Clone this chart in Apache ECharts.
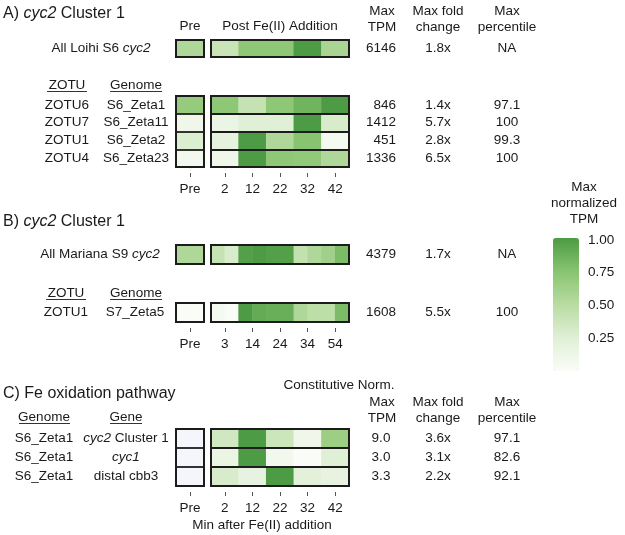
<!DOCTYPE html>
<html><head><meta charset="utf-8">
<script src="https://cdn.jsdelivr.net/npm/echarts@6/dist/echarts.min.js"></script>
<style>html,body{margin:0;padding:0;background:#fff}#c{width:625px;height:535px}</style>
</head><body><div id="c"></div>
<script>
// ---------- DATA ----------
// Panel A
const aTimes = ['2', '12', '22', '32', '42'];
const aAllLabel = ['All Loihi S6 cyc2'];
const aAllPre = [0.55];
const aAllPost = [0.40, 0.72, 0.72, 1.00, 0.58];
const aAllMaxTPM = ['6146'];
const aAllFold = ['1.8x'];
const aAllPct = ['NA'];
const aZotus = ['ZOTU6', 'ZOTU7', 'ZOTU1', 'ZOTU4'];
const aGenomes = ['S6_Zeta1', 'S6_Zeta11', 'S6_Zeta2', 'S6_Zeta23'];
const aPre = [0.68, 0.10, 0.28, 0.08];
const aPost1 = [0.72, 0.42, 0.72, 0.85, 1.00];
const aPost2 = [0.14, 0.25, 0.25, 1.00, 0.30];
const aPost3 = [0.20, 1.00, 0.55, 0.75, 0.05];
const aPost4 = [0.10, 1.00, 0.72, 0.70, 0.55];
const aMaxTPM = ['846', '1412', '451', '1336'];
const aFold = ['1.4x', '5.7x', '2.8x', '6.5x'];
const aPct = ['97.1', '100', '99.3', '100'];
// Panel B (10 samples, 5 labelled ticks)
const bSamples = ['s1', 's2', 's3', 's4', 's5', 's6', 's7', 's8', 's9', 's10'];
const bTickAt = [1, 3, 5, 7, 9];
const bTickLabels = ['3', '14', '24', '34', '54'];
const bAllLabel = ['All Mariana S9 cyc2'];
const bAllPre = [0.55];
const bAllPost = [0.42, 0.30, 0.97, 1.00, 0.97, 0.97, 0.44, 0.55, 0.62, 0.80];
const bAllMaxTPM = ['4379'];
const bAllFold = ['1.7x'];
const bAllPct = ['NA'];
const bZotus = ['ZOTU1'];
const bGenomes = ['S7_Zeta5'];
const bPre = [0.0];
const bPost1 = [0.05, 0.00, 1.00, 0.90, 0.88, 0.88, 0.55, 0.48, 0.48, 0.80];
const bMaxTPM = ['1608'];
const bFold = ['5.5x'];
const bPct = ['100'];
// Panel C
const cTimes = ['2', '12', '22', '32', '42'];
const cGenomes = ['S6_Zeta1', 'S6_Zeta1', 'S6_Zeta1'];
const cGenes = ['cyc2 Cluster 1', 'cyc1', 'distal cbb3'];
const cPre = [null, null, null]; // NA
const cPost1 = [0.35, 1.00, 0.38, 0.10, 0.65];
const cPost2 = [0.15, 1.00, 0.08, 0.00, 0.25];
const cPost3 = [0.30, 0.18, 1.00, 0.22, 0.18];
const cMaxTPM = ['9.0', '3.0', '3.3'];
const cFold = ['3.6x', '3.1x', '2.2x'];
const cPct = ['97.1', '82.6', '92.1'];
// Colour bar
const legendTicks = [0.25, 0.5, 0.75, 1.0];

// ---------- STYLE / LAYOUT ----------
const FONT = "'Liberation Sans', Arial, Helvetica, sans-serif";
const FS = 13.5;
const TXT = '#1a1a1a';
const BORDER = '#1c1c1c';
const GREENS = ['#fafcf8', '#e0f0d6', '#b9dca3', '#88c46f', '#4d9b45'];
const NA_COLOR = '#f4f6fb';
const RICH = { i: { fontStyle: 'italic', fontSize: FS, fontFamily: FONT, color: TXT } };
const fmt = s => String(s).replace(/(cyc\d)/g, '{i|$1}');
const PRE_L = 176, PRE_W = 28, POST_L = 211, POST_W = 138;

const grids = [], xAxes = [], yAxes = [], series = [], heatIdx = [];

function makeGrid(left, top, width, height, bg) {
  grids.push({ left, top, width, height, show: true, z: 10, borderColor: BORDER, borderWidth: 2,
    backgroundColor: bg || 'rgba(0,0,0,0)' });
  return grids.length - 1;
}
function labelStyle(extra) {
  return Object.assign({ fontSize: FS, fontFamily: FONT, color: TXT, rich: RICH }, extra);
}
function heat(gi, cols, rows, matrix, showX) {
  const xi = xAxes.length;
  xAxes.push({ type: 'category', gridIndex: gi, position: 'bottom', offset: 6, data: cols, z: 11,
    axisLine: { show: false }, splitLine: { show: false },
    axisTick: { show: showX, alignWithLabel: true, length: 4, lineStyle: { color: '#555', width: 1 } },
    axisLabel: labelStyle({ show: showX, interval: 0, margin: 9 }) });
  const yi = yAxes.length;
  yAxes.push({ type: 'category', gridIndex: gi, data: rows.map((_, i) => 'r' + i), inverse: true, z: 11,
    axisLine: { show: false }, axisTick: { show: false }, axisLabel: { show: false },
    splitLine: { show: rows.length > 1, lineStyle: { color: BORDER, width: 1.8 } } });
  const data = [];
  matrix.forEach((row, r) => row.forEach((v, c) => { if (v !== null) data.push([c, r, v]); }));
  heatIdx.push(series.length);
  series.push({ type: 'heatmap', xAxisIndex: xi, yAxisIndex: yi, data, silent: true,
    itemStyle: { borderWidth: 0 }, emphasis: { disabled: true } });
  return xi;
}
function labelAxis(gi, labels, position, align, margin) {
  yAxes.push({ type: 'category', gridIndex: gi, position, data: labels.map((_, i) => 'r' + i), inverse: true, z: 11,
    axisLine: { show: false }, axisTick: { show: false }, splitLine: { show: false },
    axisLabel: labelStyle({ interval: 0, align, margin, formatter: (v, i) => fmt(labels[i]) }) });
}
function col(arr) { return arr.map(v => [v]); }

// Panel A, summary row
let g = makeGrid(PRE_L, 40, PRE_W, 17);
heat(g, ['Pre'], aAllLabel, col(aAllPre), false);
labelAxis(g, aAllLabel, 'left', 'center', 75);
g = makeGrid(POST_L, 40, POST_W, 17);
heat(g, aTimes, aAllLabel, [aAllPost], false);
labelAxis(g, aAllMaxTPM, 'right', 'right', 47);
labelAxis(g, aAllFold, 'right', 'center', 89);
labelAxis(g, aAllPct, 'right', 'center', 158);
// Panel A, ZOTU rows
g = makeGrid(PRE_L, 96, PRE_W, 71);
heat(g, ['Pre'], aZotus, col(aPre), true);
labelAxis(g, aZotus, 'left', 'center', 109);
labelAxis(g, aGenomes, 'left', 'center', 40);
g = makeGrid(POST_L, 96, POST_W, 71);
heat(g, aTimes, aZotus, [aPost1, aPost2, aPost3, aPost4], true);
labelAxis(g, aMaxTPM, 'right', 'right', 47);
labelAxis(g, aFold, 'right', 'center', 89);
labelAxis(g, aPct, 'right', 'center', 158);

// Panel B, summary row
g = makeGrid(PRE_L, 245, PRE_W, 19);
heat(g, ['Pre'], bAllLabel, col(bAllPre), false);
labelAxis(g, bAllLabel, 'left', 'center', 76);
g = makeGrid(POST_L, 245, POST_W, 19);
heat(g, bSamples, bAllLabel, [bAllPost], false);
labelAxis(g, bAllMaxTPM, 'right', 'right', 47);
labelAxis(g, bAllFold, 'right', 'center', 89);
labelAxis(g, bAllPct, 'right', 'center', 158);
// Panel B, ZOTU row
g = makeGrid(PRE_L, 303, PRE_W, 19);
heat(g, ['Pre'], bZotus, col(bPre), true);
labelAxis(g, bZotus, 'left', 'center', 110);
labelAxis(g, bGenomes, 'left', 'center', 41);
g = makeGrid(POST_L, 303, POST_W, 19);
heat(g, bSamples, bZotus, [bPost1], false);
xAxes.push({ type: 'value', gridIndex: g, position: 'bottom', offset: 6, min: 0, max: bSamples.length, z: 11,
  axisLine: { show: false }, splitLine: { show: false },
  axisTick: { show: true, length: 4, customValues: bTickAt, lineStyle: { color: '#555', width: 1 } },
  axisLabel: labelStyle({ margin: 9, customValues: bTickAt, formatter: v => bTickLabels[bTickAt.indexOf(v)] }) });
labelAxis(g, bMaxTPM, 'right', 'right', 47);
labelAxis(g, bFold, 'right', 'center', 89);
labelAxis(g, bPct, 'right', 'center', 158);

// Panel C
g = makeGrid(PRE_L, 429, PRE_W, 57, NA_COLOR);
heat(g, ['Pre'], cGenes, col(cPre), true);
labelAxis(g, cGenomes, 'left', 'center', 132);
labelAxis(g, cGenes, 'left', 'center', 50);
g = makeGrid(POST_L, 429, POST_W, 57);
heat(g, cTimes, cGenes, [cPost1, cPost2, cPost3], true);
labelAxis(g, cMaxTPM, 'right', 'center', 32);
labelAxis(g, cFold, 'right', 'center', 89);
labelAxis(g, cPct, 'right', 'center', 158);

// Colour bar tick labels
grids.push({ left: 553, top: 240, width: 26, height: 131, show: false });
const lg = grids.length - 1;
xAxes.push({ type: 'value', gridIndex: lg, show: false, min: 0, max: 1 });
yAxes.push({ type: 'value', gridIndex: lg, position: 'right', min: 0, max: 1,
  axisLine: { show: false }, axisTick: { show: false }, splitLine: { show: false },
  axisLabel: labelStyle({ margin: 9, customValues: legendTicks, formatter: v => v.toFixed(2) }) });

// ---------- TEXT ----------
function txt(x, y, text, o) {
  o = o || {};
  const fs = o.fs || FS;
  return { type: 'text', x, y, silent: true, z: 20,
    style: { text, fill: TXT, fontSize: fs, fontFamily: FONT, align: o.align || 'center',
      verticalAlign: 'middle', lineHeight: o.lh || 16,
      rich: { i: { fontStyle: 'italic', fontSize: fs, fontFamily: FONT, fill: TXT } } } };
}
function uline(x1, x2, y) {
  return { type: 'line', silent: true, z: 20, shape: { x1, y1: y, x2, y2: y }, style: { stroke: '#333', lineWidth: 1 } };
}
const graphics = [
  txt(3, 14, 'A) {i|cyc2} Cluster 1', { fs: 16, align: 'left' }),
  txt(190, 26, 'Pre'),
  txt(280, 26, 'Post Fe(II) Addition'),
  txt(382, 19, 'Max\nTPM'),
  txt(438, 19, 'Max fold\nchange'),
  txt(507, 19, 'Max\npercentile'),
  txt(67, 85, 'ZOTU'), uline(47, 87, 91.5),
  txt(136, 85, 'Genome'), uline(110, 162, 91.5),
  txt(3, 222, 'B) {i|cyc2} Cluster 1', { fs: 16, align: 'left' }),
  txt(66, 293, 'ZOTU'), uline(46, 86, 299.5),
  txt(136, 293, 'Genome'), uline(110, 162, 299.5),
  txt(3, 394, 'C) Fe oxidation pathway', { fs: 16, align: 'left' }),
  txt(339, 385, 'Constitutive Norm.'),
  txt(382, 410, 'Max\nTPM'),
  txt(438, 410, 'Max fold\nchange'),
  txt(507, 410, 'Max\npercentile'),
  txt(44, 417, 'Genome'), uline(19, 70, 423.5),
  txt(126, 417, 'Gene'), uline(110, 142, 423.5),
  txt(262, 525, 'Min after Fe(II) addition'),
  txt(584, 203, 'Max\nnormalized\nTPM')
];

const chart = echarts.init(document.getElementById('c'), null, { renderer: 'canvas' });
chart.setOption({
  animation: false,
  backgroundColor: '#ffffff',
  grid: grids, xAxis: xAxes, yAxis: yAxes, series,
  visualMap: [{ type: 'continuous', min: 0, max: 1, seriesIndex: heatIdx, dimension: 2,
    inRange: { color: GREENS }, show: true, calculable: false, hoverLink: false,
    left: 553, top: 238, itemWidth: 26, itemHeight: 133, padding: 0, orient: 'vertical',
    textStyle: { color: 'rgba(0,0,0,0)' } }],
  graphic: graphics
});
</script></body></html>
